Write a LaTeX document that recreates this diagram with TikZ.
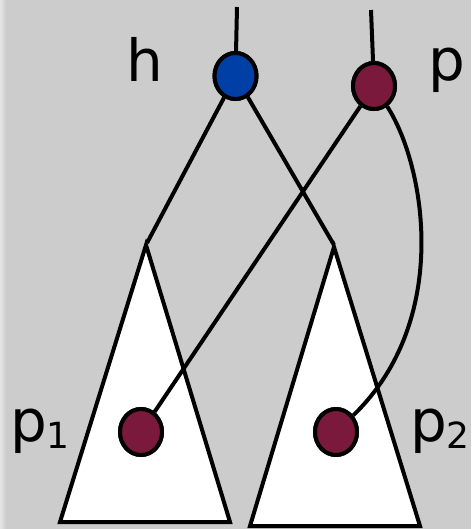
\documentclass[tikz,border=0pt]{standalone}
\usepackage{fontspec}
\setmainfont{DejaVu Sans}
\usetikzlibrary{shapes.geometric}
\definecolor{bg}{RGB}{204,204,204}
\definecolor{hblue}{RGB}{0,64,166}
\definecolor{maroon}{RGB}{122,25,60}
\tikzset{
  dot/.style={ellipse, draw=black, line width=4pt, minimum width=42pt, minimum height=46pt, inner sep=0pt},
  tri/.style={draw=black, fill=white, line width=4pt, line join=miter},
  wire/.style={draw=black, line width=4pt},
  lbl/.style={font=\fontsize{58}{58}\selectfont, inner sep=0pt, anchor=base}
}
\newcommand{\subdig}[1]{{\fontsize{36}{36}\selectfont\raisebox{-7pt}{#1}}}
\begin{document}
\begin{tikzpicture}[x=1pt,y=-1pt]
\useasboundingbox (0,0) rectangle (471,529);
\fill[bg] (0,0) rectangle (471,529);
\shade[left color=bg!50!white, right color=bg] (0,0) rectangle (6,529);
% triangles
\draw[tri] (146,245) -- (60,522) -- (230,522) -- cycle;
\draw[tri] (334,247) -- (250,526) -- (420,526) -- cycle;
\coordinate (la) at (147,243);
\coordinate (ra) at (334,245);
\coordinate (ht) at (237,7);
\coordinate (pt) at (371,10);
% nodes
\node[dot, fill=hblue] (h) at (235.5,76) {};
\node[dot, fill=maroon] (p) at (374,86) {};
\node[dot, fill=maroon] (p1) at (141,432) {};
\node[dot, fill=maroon] (p2) at (336,432) {};
% wires
\draw[wire] (ht) -- (h);
\draw[wire] (pt) -- (p);
\draw[wire] (h) -- (la);
\draw[wire] (h) -- (ra);
\draw[wire] (p) -- (p1);
\draw[wire] (p) .. controls (425,165) and (452,320) .. (p2);
% redraw nodes on top
\node[dot, fill=hblue] at (h) {};
\node[dot, fill=maroon] at (p) {};
\node[dot, fill=maroon] at (p1) {};
\node[dot, fill=maroon] at (p2) {};
% labels
\node[lbl] (lh) at (145,82) {h};
\node[lbl] (lp) at (447,81) {p};
\node[lbl] (lp1) at (40,441) {p\kern-1pt\subdig{1}};
\node[lbl] (lp2) at (440,441) {p\kern-1pt\subdig{2}};
\end{tikzpicture}
\end{document}
